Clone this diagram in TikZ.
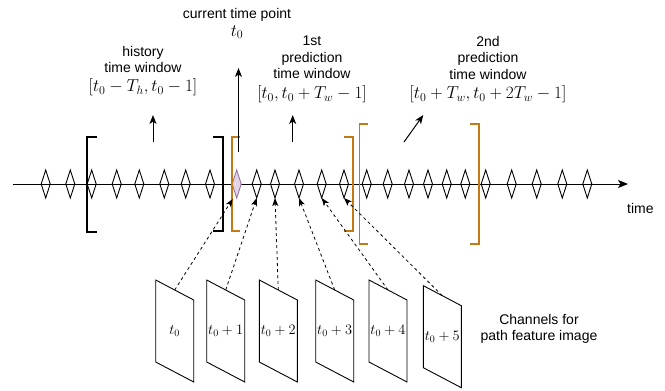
\documentclass[tikz,border=0pt]{standalone}
\usepackage{fontspec}
\setmainfont{Liberation Sans}
\usetikzlibrary{arrows.meta,shapes.geometric,calc}
\definecolor{orng}{RGB}{196,122,20}
\definecolor{pfill}{RGB}{225,213,231}
\definecolor{pline}{RGB}{150,115,166}
\newcommand{\lblmath}[1]{{\fontsize{17.5}{20}\selectfont $#1$}}
\begin{document}
\begin{tikzpicture}[x=1pt,y=-1pt,
  dia/.style={draw, diamond, minimum width=9pt, minimum height=28pt, inner sep=0pt, outer sep=0pt, line width=0.9pt},
  purp/.style={fill=pfill, draw=pline},
  lbl/.style={font=\fontsize{14}{16.5}\selectfont, align=center, inner sep=0pt},
  brk/.style={line width=1.8pt},
  obrk/.style={line width=1.8pt, draw=orng},
  chan/.style={draw, line width=0.9pt},
  uparr/.style={line width=1pt, -{Stealth[length=9pt,width=7pt,inset=2.5pt]}},
  dasharr/.style={line width=0.8pt, dash pattern=on 3pt off 3pt, -{Stealth[length=8pt,width=6pt,inset=2pt]}}
]
\useasboundingbox (0,0) rectangle (665,391);
% axis
\coordinate (a0) at (13,184);
\coordinate (a1) at (628,184);
\draw[line width=1pt, -{Stealth[length=10pt,width=8pt,inset=2.5pt]}] (a0) -- (a1);
\node[lbl, anchor=west] (timelbl) at (627,208) {time};
% diamonds
\foreach \i/\x in {1/45.7,2/70.3,3/91.7,4/116.7,5/139.3,6/164.3,7/185.7,8/210,
  10/256.7,11/275,12/299,13/321.7,14/344,15/366.7,16/387.7,17/409,18/428,
  19/446.7,20/465.3,21/485.7,22/511.7,23/536.7,24/562.3,25/587.3}
  {\node[dia] (d\i) at (\x,184) {};}
\node[dia, purp] (d9) at (236.7,184) {};
% brackets
\draw[brk] (97,137) -- (87,137) -- (87,232) -- (97,232);
\draw[brk] (213,137) -- (223,137) -- (223,231) -- (213,231);
\draw[obrk] (240,137) -- (232,137) -- (232,231) -- (240,231);
\draw[obrk] (344,137) -- (352.7,137) -- (352.7,231) -- (344,231);
\draw[obrk] (368,124) -- (359.5,124) -- (359.5,244) -- (368,244);
\draw[obrk] (470,124) -- (478.7,124) -- (478.7,244) -- (470,244);
% labels
\node[lbl] (cur) at (237,23.5) {current time point\\[1pt] \lblmath{t_0}};
\node[lbl] (hist) at (143,71) {history\\ time window\\[2pt] \lblmath{[t_0-T_h,t_0-1]}};
\node[lbl] (pred1) at (312,69.5) {1st\\ prediction\\ time window\\[3pt] \lblmath{[t_0,t_0+T_w-1]}};
\node[lbl] (pred2) at (488,69.5) {2nd\\ prediction\\ time window\\[3pt] \lblmath{[t_0+T_w,t_0+2T_w-1]}};
\node[lbl] (chl) at (539,329) {Channels for\\ path feature image};
% up arrows
\coordinate (h1) at (153,142); \coordinate (h2) at (153,115);
\draw[uparr] (h1) -- (h2);
\coordinate (p1) at (292.7,142); \coordinate (p2) at (292.7,115);
\draw[uparr] (p1) -- (p2);
\coordinate (q1) at (404,142); \coordinate (q2) at (423.3,115);
\draw[uparr] (q1) -- (q2);
\coordinate (c1s) at (238.5,152); \coordinate (c2s) at (238.5,68);
\draw[uparr] (c1s) -- (c2s);
% channels
\foreach \i/\L/\T/\t in {1/155.7/280/{t_0},2/206.7/280/{t_0+1},3/259.3/280/{t_0+2},
  4/315.7/280/{t_0+3},5/369/280/{t_0+4},6/423.3/285.7/{t_0+5}} {
  \draw[chan] (\L,\T) -- ++(38,20) -- ++(0,82) -- ++(-38,-20) -- cycle;
  \node[lbl] (ch\i) at (\L+19,\T+51) {$\t$};
  \coordinate (c\i) at (\L+19,\T+10);
}
\draw[dasharr] (c1) -- ($(d9.south)+(-4,1)$);
\draw[dasharr] (c2) -- (d10.south);
\draw[dasharr] (c3) -- (d11.south);
\draw[dasharr] (c4) -- (d12.south);
\draw[dasharr] (c5) -- (d13.south);
\draw[dasharr] (c6) -- (d14.south);
\end{tikzpicture}
\end{document}
